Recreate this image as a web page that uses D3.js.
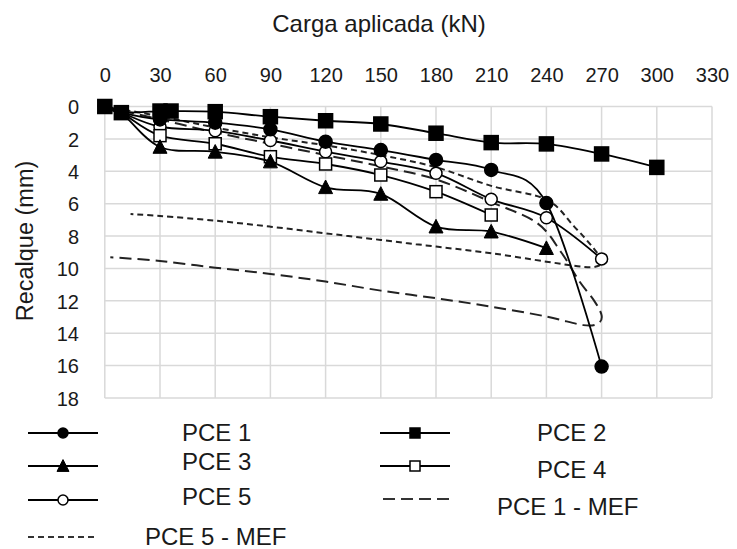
<!DOCTYPE html>
<html><head><meta charset="utf-8">
<script src="https://cdn.jsdelivr.net/npm/d3@7"></script>
<style>
html,body{margin:0;padding:0;background:#fff;}
svg{display:block;}
</style></head>
<body>
<svg id="chart" width="737" height="549"></svg>
<script>
// ---- data ----
const xTicks = [0,30,60,90,120,150,180,210,240,270,300,330];
const yTicks = [0,2,4,6,8,10,12,14,16,18];

const pce1Load = [0, 9, 30, 60, 90, 120, 150, 180, 210, 240, 270];
const pce1Set  = [0, 0.38, 0.8, 1.0, 1.41, 2.17, 2.69, 3.3, 3.92, 5.96, 16.06];

const pce2Load = [0, 9, 30, 36, 60, 90, 120, 150, 180, 210, 240, 270, 300];
const pce2Set  = [0, 0.38, 0.28, 0.28, 0.32, 0.63, 0.88, 1.08, 1.65, 2.23, 2.31, 2.93, 3.76];

const pce3Load = [0, 9, 30, 60, 90, 120, 150, 180, 210, 240];
const pce3Set  = [0, 0.38, 2.5, 2.8, 3.4, 4.99, 5.4, 7.42, 7.73, 8.75];

const pce4Load = [0, 9, 30, 60, 90, 120, 150, 180, 210];
const pce4Set  = [0, 0.38, 1.8, 2.3, 3.1, 3.55, 4.23, 5.26, 6.7];

const pce5Load = [0, 9, 30, 60, 90, 120, 150, 180, 210, 240, 270];
const pce5Set  = [0, 0.38, 1.25, 1.5, 2.1, 2.79, 3.4, 4.12, 5.73, 6.87, 9.41];

const mef1Load = [0, 30, 60, 90, 120, 150, 180, 210, 235, 248, 258, 266, 270, 268, 260, 240, 210, 180, 150, 120, 90, 60, 30, 3];
const mef1Set  = [0, 0.8, 1.6, 2.3, 3.0, 3.7, 4.5, 5.9, 7.2, 9.0, 10.8, 12.0, 12.9, 13.4, 13.5, 12.97, 12.36, 11.84, 11.37, 10.81, 10.34, 9.95, 9.54, 9.31];

const mef5Load = [0, 30, 60, 90, 120, 150, 180, 210, 240, 255, 266, 270, 268, 260, 240, 210, 180, 150, 120, 90, 60, 30, 14];
const mef5Set  = [0, 0.6, 1.3, 1.9, 2.4, 3.0, 3.75, 4.9, 5.75, 7.4, 8.8, 9.5, 9.85, 9.9, 9.58, 9.06, 8.65, 8.24, 7.83, 7.42, 7.05, 6.76, 6.64];

const legendNames = ["PCE 1","PCE 2","PCE 3","PCE 4","PCE 5","PCE 1 - MEF","PCE 5 - MEF"];

// ---- chart ----
const FONT = "Liberation Sans";
const TXT = "#1a1a1a";
const svg = d3.select("#chart");
const x = d3.scaleLinear().domain([0,330]).range([104.8,712]);
const y = d3.scaleLinear().domain([0,18]).range([106.5,398]);
const grid = "#d9d9d9";

svg.append("g").selectAll("line").data(xTicks).join("line")
  .attr("x1",d=>x(d)).attr("x2",d=>x(d)).attr("y1",y(0)).attr("y2",y(18))
  .attr("stroke",grid).attr("stroke-width",1.5);
svg.append("g").selectAll("line").data(yTicks).join("line")
  .attr("x1",x(0)).attr("x2",x(330)).attr("y1",d=>y(d)).attr("y2",d=>y(d))
  .attr("stroke",grid).attr("stroke-width",1.5);

const xAxis = d3.axisTop(x).tickValues(xTicks).tickSize(0).tickPadding(0);
const gx = svg.append("g").attr("transform","translate(0,82)").call(xAxis);
gx.select(".domain").remove();
gx.selectAll("text").attr("font-size",20).attr("dy",0)
  .attr("font-family",FONT).attr("fill",TXT);

const yAxis = d3.axisLeft(y).tickValues(yTicks).tickSize(0).tickPadding(0);
const gy = svg.append("g").attr("transform","translate(79,0)").call(yAxis);
gy.select(".domain").remove();
gy.selectAll("text").attr("font-size",20).attr("dy","0.36em")
  .attr("font-family",FONT).attr("fill",TXT);

svg.append("text").attr("x",379).attr("y",32).attr("text-anchor","middle")
  .attr("font-family",FONT).attr("fill",TXT)
  .attr("font-size",24).text("Carga aplicada (kN)");
svg.append("text").attr("transform","translate(33,241) rotate(-90)")
  .attr("font-family",FONT).attr("fill",TXT)
  .attr("text-anchor","middle").attr("font-size",23.5).text("Recalque (mm)");

const zip = (a,b)=>a.map((v,i)=>[v,b[i]]);
const line = d3.line().x(d=>x(d[0])).y(d=>y(d[1])).curve(d3.curveCardinal.tension(0));

function drawMarker(g, type, cx, cy, s){
  if(type==="circle"||type==="ocircle"){
    g.append("circle").attr("cx",cx).attr("cy",cy).attr("r",s/2)
      .attr("fill",type==="circle"?"#000":"#fff").attr("stroke","#000").attr("stroke-width",1.5);
  } else if(type==="square"||type==="osquare"){
    g.append("rect").attr("x",cx-s/2).attr("y",cy-s/2).attr("width",s).attr("height",s)
      .attr("fill",type==="square"?"#000":"#fff").attr("stroke","#000").attr("stroke-width",1.5);
  } else if(type==="tri"){
    const h=s*0.9;
    g.append("path").attr("d",`M${cx},${cy-h/2-1}L${cx+s/2},${cy+h/2}L${cx-s/2},${cy+h/2}Z`)
      .attr("fill","#000").attr("stroke","#000").attr("stroke-width",1);
  }
}

svg.append("path").datum(zip(mef1Load,mef1Set)).attr("d",line)
  .attr("fill","none").attr("stroke","#222").attr("stroke-width",2).attr("stroke-dasharray","12,6");
svg.append("path").datum(zip(mef5Load,mef5Set)).attr("d",line)
  .attr("fill","none").attr("stroke","#222").attr("stroke-width",2).attr("stroke-dasharray","6,4");

const series = [
  {load:pce5Load, set:pce5Set, m:"ocircle", s:12},
  {load:pce4Load, set:pce4Set, m:"osquare", s:12},
  {load:pce3Load, set:pce3Set, m:"tri", s:14},
  {load:pce1Load, set:pce1Set, m:"circle", s:13},
  {load:pce2Load, set:pce2Set, m:"square", s:14},
];
series.forEach(sr=>{
  const g = svg.append("g");
  const pts = zip(sr.load, sr.set);
  g.append("path").datum(pts).attr("d",line).attr("fill","none").attr("stroke","#000").attr("stroke-width",1.8);
  pts.forEach(p=>drawMarker(g, sr.m, x(p[0]), y(p[1]), sr.s));
});

const leg = [
  {name:legendNames[0], m:"circle", lx:28, ly:433, tx:182, ty:433},
  {name:legendNames[1], m:"square", lx:380, ly:433, tx:537, ty:433},
  {name:legendNames[2], m:"tri", lx:28, ly:466, tx:182, ty:462},
  {name:legendNames[3], m:"osquare", lx:380, ly:466, tx:537, ty:470},
  {name:legendNames[4], m:"ocircle", lx:28, ly:500, tx:182, ty:497},
  {name:legendNames[5], m:"long", lx:383, ly:499, tx:497, ty:507},
  {name:legendNames[6], m:"short", lx:28, ly:537, tx:145, ty:537},
];
leg.forEach(l=>{
  const g = svg.append("g");
  if(l.m==="long"){
    g.append("line").attr("x1",l.lx).attr("x2",l.lx+70).attr("y1",l.ly).attr("y2",l.ly)
      .attr("stroke","#333").attr("stroke-width",2).attr("stroke-dasharray","12,6");
  } else if(l.m==="short"){
    g.append("line").attr("x1",l.lx).attr("x2",l.lx+68).attr("y1",l.ly).attr("y2",l.ly)
      .attr("stroke","#333").attr("stroke-width",2).attr("stroke-dasharray","6,4");
  } else {
    g.append("line").attr("x1",l.lx).attr("x2",l.lx+70).attr("y1",l.ly).attr("y2",l.ly)
      .attr("stroke","#000").attr("stroke-width",1.8);
    drawMarker(g, l.m, l.lx+35, l.ly, l.m==="tri"?12:10);
  }
  g.append("text").attr("x",l.tx).attr("y",l.ty).attr("dy","0.35em").attr("font-size",24)
    .attr("font-family",FONT).attr("fill",TXT).text(l.name);
});
</script>
</body></html>
